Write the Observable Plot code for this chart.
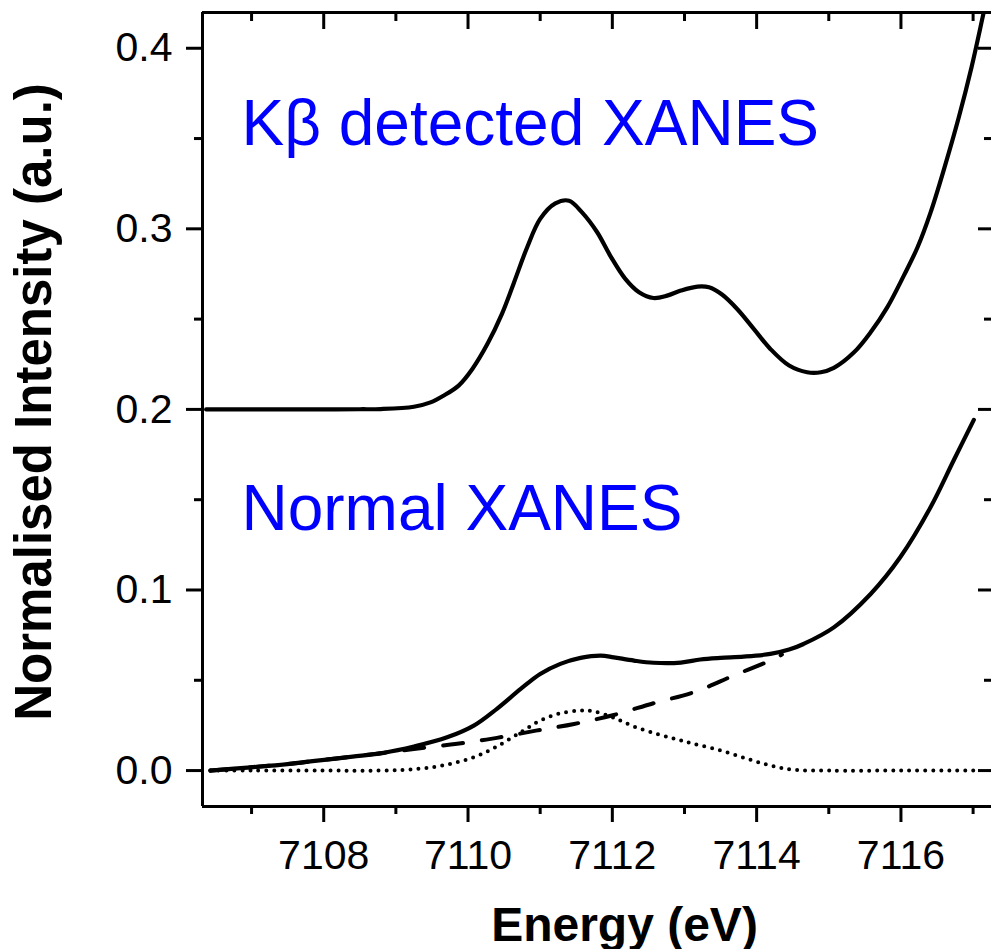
<!DOCTYPE html>
<html><head><meta charset="utf-8">
<script src="https://cdn.jsdelivr.net/npm/d3@7"></script>
<script src="https://cdn.jsdelivr.net/npm/@observablehq/plot@0.6"></script>
<style>
html,body{margin:0;padding:0;background:#fff;overflow:hidden;}
#chart{width:991px;height:949px;overflow:hidden;}
#chart svg{max-width:none !important;}
</style></head><body><div id="chart"></div>
<script>
// K-beta detected XANES (offset curve)
const energyKb = [7106.37,7107.0,7107.5,7108.0,7108.5,7108.79,7109.25,7109.48,7109.66,7109.87,7110.06,7110.27,7110.47,7110.63,7110.82,7111.00,7111.21,7111.40,7111.58,7111.79,7111.97,7112.18,7112.37,7112.57,7112.76,7112.95,7113.18,7113.34,7113.52,7113.73,7113.96,7114.19,7114.45,7114.70,7114.89,7115.07,7115.35,7115.58,7115.81,7116.04,7116.23,7116.41,7116.60,7116.80,7116.98,7117.14,7117.23];
const intensityKb = [0.2,0.2,0.2,0.2,0.2001,0.2002,0.2015,0.2039,0.2076,0.2132,0.2224,0.2363,0.2529,0.2695,0.2898,0.3055,0.3141,0.3156,0.3091,0.2981,0.2852,0.2723,0.2649,0.2617,0.2630,0.2658,0.2680,0.2676,0.2636,0.2556,0.2446,0.2335,0.2243,0.2206,0.2206,0.2230,0.2316,0.2427,0.2565,0.2741,0.2898,0.3090,0.3335,0.3615,0.3898,0.4186,0.4350];
// Normal XANES
const energyNormal = [7106.43,7106.99,7107.5,7107.91,7108.4,7108.83,7109.25,7109.71,7110.08,7110.40,7110.73,7111.00,7111.28,7111.56,7111.84,7112.02,7112.30,7112.57,7112.95,7113.22,7113.50,7113.82,7114.19,7114.45,7114.65,7115.07,7115.58,7115.99,7116.41,7116.73,7117.01];
const intensityNormal = [0,0.0018,0.0036,0.0055,0.0077,0.0098,0.0133,0.0184,0.0249,0.0342,0.0452,0.0535,0.0591,0.0624,0.0637,0.0627,0.0609,0.0597,0.0598,0.0615,0.0624,0.0631,0.0646,0.0670,0.0701,0.0793,0.0978,0.1181,0.1458,0.1717,0.1942];
// Background (dashed)
const energyBackground = [7106.43,7106.99,7107.5,7107.91,7108.4,7108.83,7109.25,7109.85,7110.40,7110.94,7111.47,7112.02,7112.57,7113.13,7113.68,7114.24,7114.35];
const intensityBackground = [0,0.0018,0.0036,0.0055,0.0077,0.0098,0.0120,0.0148,0.0181,0.0221,0.0258,0.0308,0.0373,0.0434,0.0526,0.0618,0.0642];
// Pre-edge peak (dotted)
const energyPreEdge = [7106.43,7107.0,7108.0,7108.79,7109.30,7109.71,7110.08,7110.40,7110.73,7111.00,7111.28,7111.56,7111.74,7112.02,7112.30,7112.62,7112.90,7113.13,7113.50,7113.87,7114.19,7114.52,7115.0,7116.0,7117.01];
const intensityPreEdge = [0,0,0,0,0.0009,0.0033,0.0074,0.0133,0.0212,0.0277,0.0317,0.0332,0.0328,0.0292,0.0244,0.0203,0.0172,0.0148,0.0111,0.0065,0.0028,0.0004,0,0,0];
// Annotations
const labelTexts = ["K\u03B2 detected XANES", "Normal XANES"];
const labelEnergy = [7106.86, 7106.86];
const labelIntensity = [0.3466, 0.1334];
// Ticks
const xMajor = [7108,7110,7112,7114,7116];
const xMinor = [7107,7109,7111,7113,7115,7117];
const yMajor = [0,0.1,0.2,0.3,0.4];
const yMinor = [0.05,0.15,0.25,0.35];
const xDomain = [7106.32, 7117.255];
const yDomain = [-0.0199, 0.4198];

const zip = (xs, ys) => xs.map((x, i) => ({E: x, I: ys[i]}));
const kb = zip(energyKb, intensityKb);
const normal = zip(energyNormal, intensityNormal);
const background = zip(energyBackground, intensityBackground);
const preEdge = zip(energyPreEdge, intensityPreEdge);
const labels = labelTexts.map((t, i) => ({t, E: labelEnergy[i], I: labelIntensity[i]}));

const W = 991, H = 949, mL = 202, mR = 0, mT = 12, mB = 143;
const innerW = W - mL - mR, innerH = H - mT - mB;
const font = "'Liberation Sans', Arial, Helvetica, sans-serif";

const chart = Plot.plot({
  width: W, height: H,
  marginLeft: mL, marginRight: mR, marginTop: mT, marginBottom: mB,
  x: {domain: xDomain},
  y: {domain: yDomain},
  style: {fontFamily: font, background: "white", color: "black"},
  marks: [
    Plot.line(preEdge, {x: "E", y: "I", stroke: "black", strokeWidth: 4, strokeDasharray: "0 8", strokeLinecap: "round", curve: "catmull-rom"}),
    Plot.line(background, {x: "E", y: "I", stroke: "black", strokeWidth: 4, strokeDasharray: "20 19", curve: "catmull-rom"}),
    Plot.line(normal, {x: "E", y: "I", stroke: "black", strokeWidth: 4.2, curve: "catmull-rom"}),
    Plot.line(kb, {x: "E", y: "I", stroke: "black", strokeWidth: 4.2, curve: "catmull-rom", clip: true}),
    Plot.text(labels, {x: "E", y: "I", text: "t", fill: "#0000ff", fontSize: 64, textAnchor: "start", lineAnchor: "bottom"}),
    // frame: left, top, bottom (right edge lies just outside the picture)
    Plot.ruleX([xDomain[0]], {stroke: "black", strokeWidth: 3, y1: yDomain[0], y2: yDomain[1]}),
    Plot.ruleY([yDomain[0], yDomain[1]], {stroke: "black", strokeWidth: 3, x1: xDomain[0], x2: xDomain[1]}),
    // bottom axis
    Plot.axisX({ticks: xMajor, anchor: "bottom", tickSize: 16, tickPadding: 17, strokeWidth: 3, fontSize: 41, tickFormat: d => String(d), label: null}),
    Plot.tickX(xMinor, {x: d => d, insetTop: innerH, insetBottom: -8, strokeWidth: 3}),
    // top inward ticks
    Plot.tickX(xMajor, {x: d => d, insetBottom: innerH - 17, strokeWidth: 3}),
    Plot.tickX(xMinor, {x: d => d, insetBottom: innerH - 9, strokeWidth: 3}),
    // left axis
    Plot.axisY({ticks: yMajor, anchor: "left", tickSize: 16, tickPadding: 14, strokeWidth: 3, fontSize: 41, tickFormat: d3.format(".1f"), label: null}),
    Plot.tickY(yMinor, {y: d => d, insetRight: innerW, insetLeft: -8, strokeWidth: 3}),
    // right inward ticks
    Plot.tickY(yMajor, {y: d => d, insetLeft: innerW - 13, strokeWidth: 3}),
    Plot.tickY(yMinor, {y: d => d, insetLeft: innerW - 7, strokeWidth: 3}),
    // axis titles
    Plot.text(["Energy (eV)"], {text: d => d, frameAnchor: "bottom", dx: 27.5, dy: 134, lineAnchor: "bottom", fontSize: 48, fontWeight: "bold"}),
    Plot.text(["Normalised Intensity (a.u.)"], {text: d => d, frameAnchor: "left", rotate: -90, dx: -152, dy: -7.5, textAnchor: "middle", lineAnchor: "bottom", fontSize: 51, fontWeight: "bold"})
  ]
});
document.getElementById("chart").appendChild(chart);
</script>
</body></html>
